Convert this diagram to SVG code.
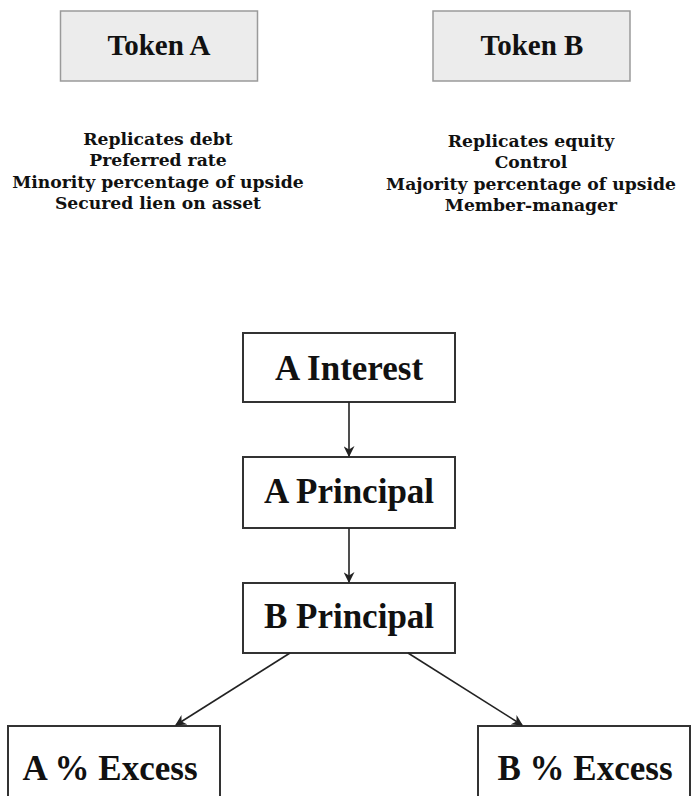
<svg xmlns="http://www.w3.org/2000/svg" width="693" height="796" viewBox="0 0 693 796">
<defs>
<marker id="arr" viewBox="0 0 10 10" refX="9" refY="5" markerWidth="11" markerHeight="11" markerUnits="userSpaceOnUse" orient="auto">
<path d="M0,0 L10,5 L0,10 L3,5 Z" fill="#222"/>
</marker>
<style>
.tok{fill:#ececec;stroke:#9a9a9a;stroke-width:1.5}
.box{fill:#fff;stroke:#333;stroke-width:2}
.big{font-family:"Liberation Serif",serif;font-weight:bold;fill:#111;text-anchor:middle}
.sm{font-family:"DejaVu Serif",serif;font-weight:bold;font-size:17.2px;fill:#111;text-anchor:middle}
.edge{stroke:#222;stroke-width:1.6;fill:none;marker-end:url(#arr)}
</style>
</defs>
<rect width="693" height="796" fill="#fff"/>
<g id="tokenA">
<rect class="tok" x="60.5" y="11" width="197" height="70"/>
<text class="big" x="159" y="55" font-size="29">Token A</text>
</g>
<g id="tokenB">
<rect class="tok" x="433" y="11" width="197" height="70"/>
<text class="big" x="532" y="55" font-size="29">Token B</text>
</g>
<g id="descA">
<text class="sm" x="158" y="145">Replicates debt</text>
<text class="sm" x="158" y="166">Preferred rate</text>
<text class="sm" x="158" y="187.5">Minority percentage of upside</text>
<text class="sm" x="158" y="209">Secured lien on asset</text>
</g>
<g id="descB">
<text class="sm" x="531" y="147">Replicates equity</text>
<text class="sm" x="531" y="168">Control</text>
<text class="sm" x="531" y="190">Majority percentage of upside</text>
<text class="sm" x="531" y="211">Member-manager</text>
</g>
<g id="aInterest">
<rect class="box" x="243" y="333" width="212" height="69"/>
<text class="big" x="349" y="380" font-size="35">A Interest</text>
</g>
<g id="aPrincipal">
<rect class="box" x="243" y="457" width="212" height="71"/>
<text class="big" x="349" y="503" font-size="35">A Principal</text>
</g>
<g id="bPrincipal">
<rect class="box" x="243" y="583" width="212" height="70"/>
<text class="big" x="349" y="628" font-size="35">B Principal</text>
</g>
<g id="aExcess">
<rect class="box" x="8" y="726" width="212" height="80"/>
<text class="big" x="110" y="780" font-size="35">A % Excess</text>
</g>
<g id="bExcess">
<rect class="box" x="478" y="726" width="212" height="80"/>
<text class="big" x="585" y="780" font-size="35">B % Excess</text>
</g>
<g id="connectors">
<line class="edge" x1="349" y1="402" x2="349" y2="456"/>
<line class="edge" x1="349" y1="528" x2="349" y2="582"/>
<line class="edge" x1="290" y1="653" x2="176" y2="725"/>
<line class="edge" x1="408" y1="653" x2="522" y2="725"/>
</g>
</svg>
